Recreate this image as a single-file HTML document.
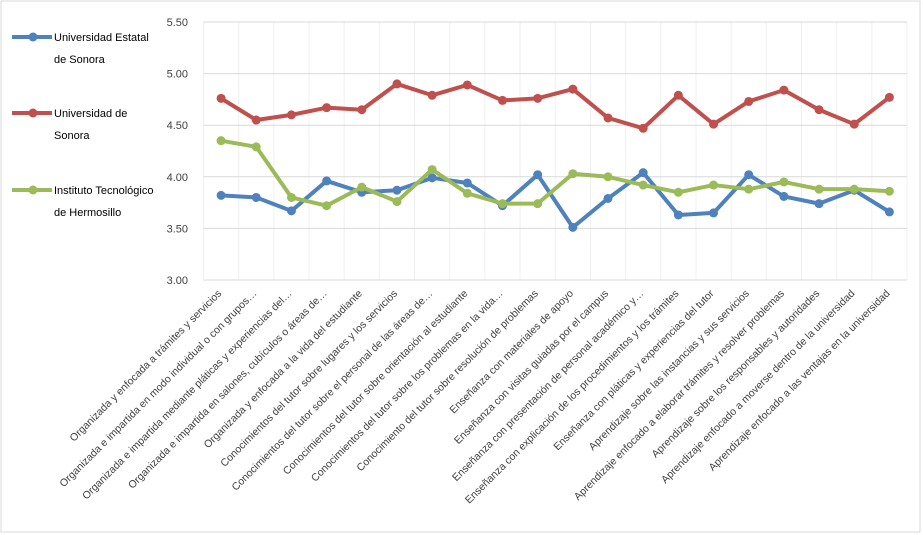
<!DOCTYPE html>
<html><head><meta charset="utf-8"><style>
body{margin:0;background:#fff;}
svg{display:block;font-family:"Liberation Sans",sans-serif;}
</style></head><body>
<svg id="c" width="923" height="535">
<rect x="1" y="1" width="919" height="531" fill="#fff" stroke="#d9d9d9"/>
</svg>
<script>
const categories=["Organizada y enfocada a trámites y servicios","Organizada e impartida en modo individual o con grupos…","Organizada e impartida mediante pláticas y experiencias del…","Organizada e impartida en salones, cubículos o áreas de…","Organizada y enfocada a la vida del estudiante","Conocimientos del tutor sobre lugares y los servicios","Conocimientos del tutor sobre el personal de las áreas de…","Conocimientos del tutor sobre orientación al estudiante","Conocimientos del tutor sobre los problemas en la vida…","Conocimiento del tutor sobre resolución de problemas","Enseñanza con materiales de apoyo","Enseñanza con visitas guiadas por el campus","Enseñanza con presentación de personal académico y…","Enseñanza con explicación de los procedimientos y los trámites","Enseñanza con pláticas y experiencias del tutor","Aprendizaje sobre las instancias  y sus servicios","Aprendizaje enfocado a elaborar trámites y resolver problemas","Aprendizaje sobre los responsables y autoridades","Aprendizaje enfocado a moverse dentro de la universidad","Aprendizaje enfocado a las ventajas en la universidad"];
const uesValues=[3.82,3.80,3.67,3.96,3.85,3.87,3.99,3.94,3.72,4.02,3.51,3.79,4.04,3.63,3.65,4.02,3.81,3.74,3.87,3.66];
const usonValues=[4.76,4.55,4.60,4.67,4.65,4.90,4.79,4.89,4.74,4.76,4.85,4.57,4.47,4.79,4.51,4.73,4.84,4.65,4.51,4.77];
const ithValues=[4.35,4.29,3.80,3.72,3.90,3.76,4.07,3.84,3.74,3.74,4.03,4.00,3.92,3.85,3.92,3.88,3.95,3.88,3.88,3.86];
const yTicks=["3.00","3.50","4.00","4.50","5.00","5.50"];
const seriesNames=[["Universidad Estatal","de Sonora"],["Universidad de","Sonora"],["Instituto Tecnológico","de Hermosillo"]];
const NS="http://www.w3.org/2000/svg";
const svg=document.getElementById('c');
const L=203.5,R=907,T=22,B=280,ymin=3,ymax=5.5;
const step=(R-L)/categories.length;
const xs=i=>L+step*(i+0.5);
const ys=v=>B-(v-ymin)/(ymax-ymin)*(B-T);
function mk(t,a){const e=document.createElementNS(NS,t);for(const k in a)e.setAttribute(k,a[k]);svg.appendChild(e);return e;}
for(let i=0;i<=categories.length;i++){
 const g=mk('line',{x1:L+step*i,x2:L+step*i,y1:T,y2:B,stroke:'#f0f0f0'});
 
 
}
yTicks.forEach(t=>{
 const y=ys(parseFloat(t));
 const g=mk('line',{x1:L,x2:R,y1:y,y2:y,stroke:'#d9d9d9'});
 
 
 const tx=mk('text',{x:188,y:y+4,'text-anchor':'end','font-size':'11',fill:'#404040'});
 tx.textContent=t;
 
 
});
categories.forEach((c,i)=>{
 const x=xs(i)+1,y=294;
 const tx=mk('text',{x:x,y:y,'text-anchor':'end','font-size':'10.5',fill:'#404040',transform:`rotate(-45 ${x} ${y})`});
 tx.textContent=c;
 
 
});
const colors=['#4f81bd','#c0504d','#9bbb59'];
[uesValues,usonValues,ithValues].forEach((vals,s)=>{
 const p=mk('polyline',{points:vals.map((v,i)=>xs(i)+','+ys(v)).join(' '),fill:'none',stroke:colors[s],'stroke-width':'4','stroke-linejoin':'round'});
 
 
 vals.forEach((v,i)=>{
  const c=mk('circle',{cx:xs(i),cy:ys(v),r:4.5,fill:colors[s]});
  
  
 });
});
const legY=[37,113,190];
seriesNames.forEach((n,s)=>{
 const y=legY[s];
 const l=mk('line',{x1:12,x2:52,y1:y,y2:y,stroke:colors[s],'stroke-width':'4'});
 
 
 const c=mk('circle',{cx:33,cy:y,r:4.5,fill:colors[s]});
 
 
 n.forEach((t,k)=>{
  const tx=mk('text',{x:54,y:y+4+k*22,'font-size':'11',fill:'#000'});
  tx.textContent=t;
  
  
 });
});
</script>
</body></html>
